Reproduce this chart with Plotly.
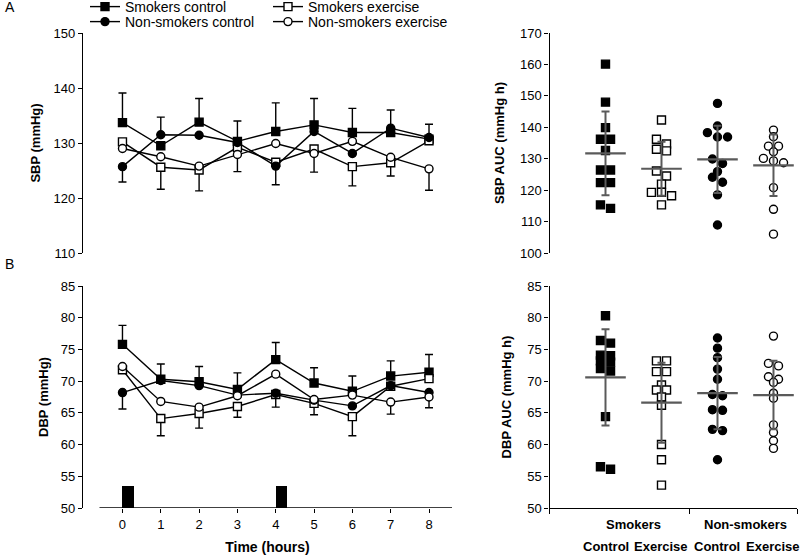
import plotly.graph_objects as go

# ---------------- data ----------------
hours = [0, 1, 2, 3, 4, 5, 6, 7, 8]
series_names = ["Smokers control", "Smokers exercise", "Non-smokers control", "Non-smokers exercise"]

# SBP time course (mmHg)
sbp_smk_ctrl = [133.7, 129.5, 133.8, 130.3, 132.1, 133.3, 131.9, 131.9, 130.7]
sbp_smk_ex = [130.2, 125.6, 125.1, 129.2, 126.5, 128.9, 125.7, 126.4, 130.4]
sbp_non_ctrl = [125.7, 131.5, 131.4, 130.1, 125.8, 132.1, 128.1, 132.7, 131.0]
sbp_non_ex = [129.0, 127.5, 125.8, 127.9, 129.9, 128.1, 130.3, 127.4, 125.3]
# SEM shown (upper bar on top series, lower bar on bottom series; 0 = not shown)
sbp_smk_ctrl_up = [5.4, 0, 4.3, 3.7, 5.2, 4.8, 4.4, 0, 0]
sbp_smk_ctrl_dn = [0, 0, 0, 0, 0, 0, 0, 0, 0]
sbp_smk_ex_up = [0, 0, 0, 0, 0, 0, 0, 0, 0]
sbp_smk_ex_dn = [0, 4.0, 3.8, 0, 0, 0, 3.5, 2.4, 0]
sbp_non_ctrl_up = [0, 3.2, 0, 0, 0, 0, 0, 3.3, 2.4]
sbp_non_ctrl_dn = [2.8, 0, 0, 0, 3.4, 0, 0, 0, 0]
sbp_non_ex_up = [0, 0, 0, 0, 0, 0, 0, 0, 0]
sbp_non_ex_dn = [0, 0, 0, 3.1, 0, 3.4, 0, 0, 3.9]

# DBP time course (mmHg)
dbp_smk_ctrl = [75.8, 70.3, 69.9, 68.7, 73.4, 69.7, 68.4, 70.8, 71.4]
dbp_smk_ex = [71.8, 64.1, 64.9, 66.0, 67.9, 66.5, 64.4, 69.2, 70.4]
dbp_non_ctrl = [68.2, 70.1, 69.3, 67.8, 68.1, 67.0, 66.1, 69.3, 68.2]
dbp_non_ex = [72.3, 66.8, 65.9, 67.7, 71.1, 67.1, 67.8, 66.7, 67.5]
dbp_smk_ctrl_up = [3.0, 2.4, 2.4, 2.6, 2.7, 2.4, 2.4, 2.4, 2.8]
dbp_smk_ctrl_dn = [0, 0, 0, 0, 0, 0, 0, 0, 0]
dbp_smk_ex_up = [0, 0, 0, 0, 0, 0, 0, 0, 0]
dbp_smk_ex_dn = [0, 2.7, 2.3, 1.7, 2.0, 1.8, 3.0, 0, 0]
dbp_non_ctrl_up = [0, 0, 0, 0, 0, 0, 0, 0, 0]
dbp_non_ctrl_dn = [2.6, 0, 0, 0, 0, 0, 0, 0, 0]
dbp_non_ex_up = [0, 0, 0, 0, 0, 0, 0, 0, 0]
dbp_non_ex_dn = [0, 0, 0, 0, 0, 0, 0, 1.9, 1.7]

# exercise periods (hours)
exercise_start = [0, 4]
exercise_len = [0.3, 0.3]
exercise_marker_height = [3.5, 3.5]

# AUC individual values
group_labels = ["Control", "Exercise", "Control", "Exercise"]
smoking_labels = ["Smokers", "Non-smokers"]
sbp_auc_smk_ctrl = [160.1, 148.0, 139.9, 136.2, 136.2, 132.6, 126.4, 126.4, 122.4, 122.4, 115.3, 114.2]
sbp_auc_smk_ex = [142.3, 136.2, 134.7, 133.0, 132.5, 126.1, 124.5, 121.9, 119.3, 119.3, 118.2, 115.3]
sbp_auc_non_ctrl = [147.6, 140.4, 138.3, 136.9, 136.9, 129.9, 128.5, 125.9, 124.1, 122.5, 118.5, 108.9]
sbp_auc_non_ex = [139.1, 137.0, 134.0, 134.0, 132.2, 130.1, 129.3, 128.7, 120.8, 113.9, 106.0]
sbp_auc_mean = [131.7, 126.8, 129.8, 127.9]
sbp_auc_sd = [13.3, 8.6, 10.7, 9.8]

dbp_auc_smk_ctrl = [80.3, 76.4, 76.0, 74.1, 74.0, 73.2, 73.0, 72.0, 71.6, 64.4, 56.5, 56.1]
dbp_auc_smk_ex = [73.2, 73.2, 71.5, 71.5, 69.4, 68.6, 68.6, 67.5, 66.2, 60.0, 57.6, 53.6]
dbp_auc_non_ctrl = [76.8, 75.2, 73.7, 71.9, 70.3, 67.9, 67.7, 65.5, 65.4, 62.4, 62.2, 57.6]
dbp_auc_non_ex = [77.1, 72.8, 72.4, 70.7, 70.3, 69.8, 68.1, 67.3, 63.1, 61.9, 60.6, 59.4]
dbp_auc_mean = [70.6, 66.6, 68.1, 67.8]
dbp_auc_sd = [7.6, 6.3, 5.7, 5.4]

# ---------------- styles ----------------
FONT = "Liberation Sans, Arial, sans-serif"
symbols = ["square", "square", "circle", "circle"]
fills = ["black", "white", "black", "white"]
GRAY = "#5a5a5a"

fig = go.Figure()

sbp_series = [sbp_smk_ctrl, sbp_smk_ex, sbp_non_ctrl, sbp_non_ex]
sbp_up = [sbp_smk_ctrl_up, sbp_smk_ex_up, sbp_non_ctrl_up, sbp_non_ex_up]
sbp_dn = [sbp_smk_ctrl_dn, sbp_smk_ex_dn, sbp_non_ctrl_dn, sbp_non_ex_dn]
dbp_series = [dbp_smk_ctrl, dbp_smk_ex, dbp_non_ctrl, dbp_non_ex]
dbp_up = [dbp_smk_ctrl_up, dbp_smk_ex_up, dbp_non_ctrl_up, dbp_non_ex_up]
dbp_dn = [dbp_smk_ctrl_dn, dbp_smk_ex_dn, dbp_non_ctrl_dn, dbp_non_ex_dn]

legend_ids = ["legend", "legend", "legend2", "legend2"]

for k in range(4):
    fig.add_trace(go.Scatter(
        x=hours, y=sbp_series[k], mode="lines+markers", name=series_names[k],
        xaxis="x", yaxis="y", legend=legend_ids[k],
        line=dict(color="black", width=1.4),
        marker=dict(symbol=symbols[k], size=8, color=fills[k], line=dict(color="black", width=1.4)),
        error_y=dict(type="data", symmetric=False, array=sbp_up[k], arrayminus=sbp_dn[k],
                     color="black", thickness=1.4, width=4),
        cliponaxis=False,
    ))
for k in range(4):
    fig.add_trace(go.Scatter(
        x=hours, y=dbp_series[k], mode="lines+markers", name=series_names[k],
        xaxis="x3", yaxis="y3", showlegend=False,
        line=dict(color="black", width=1.4),
        marker=dict(symbol=symbols[k], size=8, color=fills[k], line=dict(color="black", width=1.4)),
        error_y=dict(type="data", symmetric=False, array=dbp_up[k], arrayminus=dbp_dn[k],
                     color="black", thickness=1.4, width=4),
        cliponaxis=False,
    ))

# exercise bars
fig.add_trace(go.Bar(
    x=[s + w / 2 for s, w in zip(exercise_start, exercise_len)], y=exercise_marker_height,
    width=exercise_len, base=50, marker=dict(color="black", line=dict(width=0)),
    xaxis="x3", yaxis="y3", showlegend=False, hoverinfo="skip",
))


def dodge(vals, thr, step):
    idx = sorted(range(len(vals)), key=lambda i: -vals[i])
    clusters = []
    for i in idx:
        if clusters and vals[clusters[-1][0]] - vals[i] <= thr:
            clusters[-1].append(i)
        else:
            clusters.append([i])
    off = [0.0] * len(vals)
    for c in clusters:
        n = len(c)
        for j, i in enumerate(c):
            off[i] = (j - (n - 1) / 2) * step
    return off


STEP = 0.18
auc_sets = [
    ([sbp_auc_smk_ctrl, sbp_auc_smk_ex, sbp_auc_non_ctrl, sbp_auc_non_ex], sbp_auc_mean, sbp_auc_sd, "x2", "y2", 1.6),
    ([dbp_auc_smk_ctrl, dbp_auc_smk_ex, dbp_auc_non_ctrl, dbp_auc_non_ex], dbp_auc_mean, dbp_auc_sd, "x4", "y4", 0.5),
]
for groups, means, sds, xa, ya, thr in auc_sets:
    for k, vals in enumerate(groups):
        offs = dodge(vals, thr, STEP)
        fig.add_trace(go.Scatter(
            x=[k + 1 + o for o in offs], y=vals, mode="markers", xaxis=xa, yaxis=ya,
            showlegend=False, cliponaxis=False,
            marker=dict(symbol=symbols[k], size=8, color=fills[k], line=dict(color="black", width=1.4)),
        ))
    fig.add_trace(go.Scatter(
        x=[1, 2, 3, 4], y=means, mode="markers", xaxis=xa, yaxis=ya, showlegend=False,
        cliponaxis=False,
        marker=dict(symbol="line-ew", size=29, color=GRAY, line=dict(color=GRAY, width=2.2)),
        error_y=dict(type="data", array=sds, color=GRAY, thickness=2, width=4),
    ))

# ---------------- layout ----------------
H = 557.0
W = 800.0
top_dom = [(H - 253) / H, (H - 33) / H]
bot_dom = [(H - 508) / H, (H - 286) / H]
left_dom = [83 / W, 452 / W]
right_dom = [549.5 / W, 797 / W]

tickfont = dict(family=FONT, size=13, color="black")
titlefont = dict(family=FONT, size=13, color="black", weight="bold")


def yax(dom, rng, dtick, title, anchor, standoff):
    return dict(domain=dom, range=rng, dtick=dtick, showline=True, linecolor="black", linewidth=1.4,
                ticks="outside", ticklen=4, tickwidth=1.4, tickcolor="black", showgrid=False,
                zeroline=False, tickfont=tickfont, anchor=anchor,
                title=dict(text=title, font=titlefont, standoff=standoff))


fig.update_layout(
    width=800, height=557, margin=dict(l=0, r=0, t=0, b=0, autoexpand=False),
    paper_bgcolor="white", plot_bgcolor="white",
    font=dict(family=FONT, color="black"),
    bargap=0,
    xaxis=dict(domain=left_dom, range=[-1.03, 8.6], visible=False, anchor="y"),
    yaxis=yax(top_dom, [110, 150], 10, "SBP (mmHg)", "x", 9),
    xaxis2=dict(domain=right_dom, range=[0, 4.42], visible=False, anchor="y2"),
    yaxis2=yax(top_dom, [100, 170], 10, "SBP AUC (mmHg h)", "x2", 12),
    xaxis3=dict(domain=left_dom, range=[-1.03, 8.6], anchor="y3", showline=False, showgrid=False,
                zeroline=False, tickvals=hours, ticks="outside", ticklen=4, tickwidth=1.4,
                tickcolor="black", tickfont=tickfont,
                title=dict(text="Time (hours)", font=dict(family=FONT, size=14, color="black", weight="bold"),
                           standoff=11)),
    yaxis3=yax(bot_dom, [50, 85], 5, "DBP (mmHg)", "x3", 9),
    xaxis4=dict(domain=right_dom, range=[0, 4.42], anchor="y4", showline=True, linecolor="black",
                linewidth=1.4, showgrid=False, zeroline=False, tickvals=[0, 2.5, 4.42],
                ticktext=["", "", ""], ticks="outside", ticklen=5, tickwidth=1.4, tickcolor="black"),
    yaxis4=yax(bot_dom, [50, 85], 5, "DBP AUC (mmHg h)", "x4", 12),
    legend=dict(orientation="h", x=85 / W, xanchor="left", y=(H - 7) / H, yanchor="middle",
                font=dict(family=FONT, size=14, color="black"), entrywidth=138, entrywidthmode="pixels",
                itemwidth=30, bgcolor="rgba(0,0,0,0)", tracegroupgap=0),
    legend2=dict(orientation="h", x=85 / W, xanchor="left", y=(H - 22) / H, yanchor="middle",
                 font=dict(family=FONT, size=14, color="black"), entrywidth=138, entrywidthmode="pixels",
                 itemwidth=30, bgcolor="rgba(0,0,0,0)", tracegroupgap=0),
)

# x-axis line of the DBP time-course panel (offset from the y axis)
fig.add_shape(type="line", xref="x3", yref="y3", x0=-0.6, x1=8.6, y0=50, y1=50,
              line=dict(color="black", width=1.4))

# panel letters
fig.add_annotation(text="A", xref="paper", yref="paper", x=3 / W, y=(H - 7) / H, showarrow=False,
                   xanchor="left", yanchor="middle", font=dict(family=FONT, size=14, color="black"))
fig.add_annotation(text="B", xref="paper", yref="paper", x=3 / W, y=(H - 264) / H, showarrow=False,
                   xanchor="left", yanchor="middle", font=dict(family=FONT, size=14, color="black"))

# group labels under AUC panel
for i, lab in enumerate(smoking_labels):
    fig.add_annotation(text=lab, xref="x4", yref="paper", x=1.5 + 2 * i, y=(H - 524) / H,
                       showarrow=False, yanchor="middle",
                       font=dict(family=FONT, size=13, color="black", weight="bold"))
for i, lab in enumerate(group_labels):
    fig.add_annotation(text=lab, xref="x4", yref="paper", x=i + 1, y=(H - 546) / H,
                       showarrow=False, yanchor="middle",
                       font=dict(family=FONT, size=13, color="black", weight="bold"))

fig.write_html("out.html", config={"displayModeBar": False},
               post_script="document.body.style.margin='0';document.body.style.overflow='hidden';")
